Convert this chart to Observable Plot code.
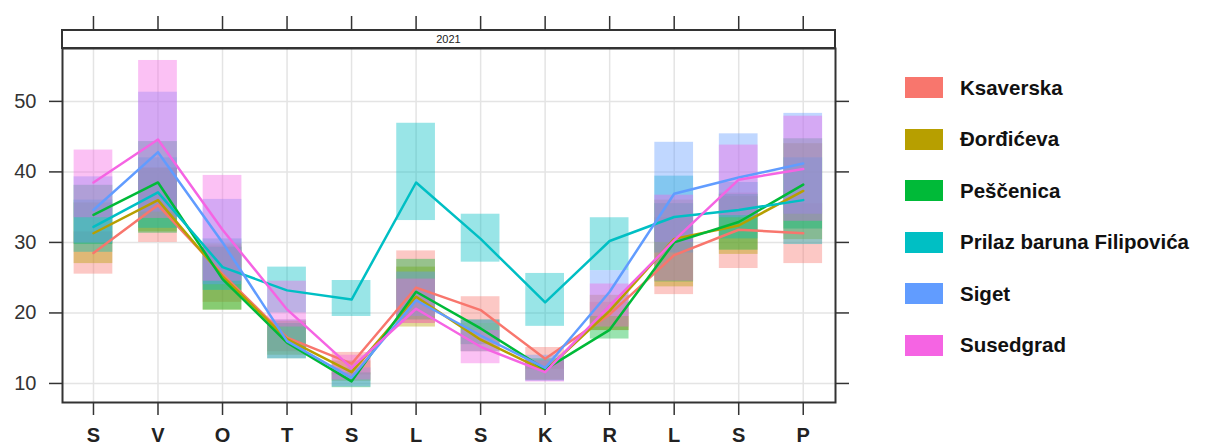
<!DOCTYPE html>
<html>
<head>
<meta charset="utf-8">
<script src="https://cdn.jsdelivr.net/npm/d3@7"></script>
<script src="https://cdn.jsdelivr.net/npm/@observablehq/plot@0.6"></script>
<style>
  html, body { margin: 0; padding: 0; background: #fff; }
  #wrap { position: relative; width: 1205px; height: 445px; overflow: hidden; font-family: "Liberation Sans", Arial, sans-serif; }
  #chart { position: absolute; left: 0; top: 0; }
  #legend { position: absolute; left: 905px; top: 62px; }
  .row { display: flex; align-items: center; height: 51.5px; }
  .sw { width: 38px; height: 21px; margin-right: 17px; }
  .lab { font-size: 20.5px; font-weight: bold; color: #111; white-space: nowrap; }
</style>
</head>
<body>
<div id="wrap"><div id="chart"></div><div id="legend"></div></div>
<script>
// ---- data ----
const monthLabels = ["S", "V", "O", "T", "S", "L", "S", "K", "R", "L", "S", "P"];
const year = "2021";
const sites = ["Ksaverska", "Đorđićeva", "Peščenica", "Prilaz baruna Filipovića", "Siget", "Susedgrad"];
const siteColors = ["#F8766D", "#B79F00", "#00BA38", "#00BFC4", "#619CFF", "#F564E3"];
const yTicks = [10, 20, 30, 40, 50];

const ksaverskaMean = [28.5, 35.3, 25.5, 16.5, 12.8, 23.6, 20.4, 13.5, 19.8, 28.2, 31.8, 31.3];
const ksaverskaLow  = [25.5, 30.0, 21.5, 14.5, 11.2, 18.5, 18.5, 12.0, 17.5, 22.6, 26.3, 27.0];
const ksaverskaHigh = [31.5, 40.6, 29.5, 19.0, 14.4, 28.8, 22.3, 15.1, 21.5, 33.5, 37.0, 35.5];

const djordjicevaMean = [31.3, 36.0, 25.2, 16.3, 11.6, 22.3, 16.2, 11.8, 20.3, 30.5, 32.4, 37.3];
const djordjicevaLow  = [27.0, 31.5, 20.4, 14.0, 10.3, 18.0, 14.5, 10.5, 17.5, 23.7, 28.3, 30.4];
const djordjicevaHigh = [35.6, 40.5, 29.8, 18.8, 13.2, 26.5, 18.5, 13.2, 22.5, 36.0, 36.5, 44.0];

const pescenicaMean = [33.9, 38.5, 24.8, 15.8, 10.3, 23.0, 17.8, 12.0, 17.6, 30.0, 32.9, 38.2];
const pescenicaLow  = [29.7, 31.3, 20.4, 13.5, 9.4, 19.0, 15.5, 10.4, 16.3, 24.4, 28.9, 31.9];
const pescenicaHigh = [38.1, 44.3, 29.3, 18.5, 11.5, 27.6, 19.0, 13.5, 19.5, 35.5, 36.8, 44.7];

const prilazMean = [32.2, 37.1, 26.5, 23.2, 21.9, 38.5, 30.5, 21.5, 30.2, 33.6, 34.6, 36.0];
const prilazLow  = [28.6, 32.0, 23.2, 20.0, 19.5, 33.1, 27.2, 18.1, 26.0, 28.5, 30.5, 29.7];
const prilazHigh = [36.0, 42.0, 30.5, 26.5, 24.6, 46.9, 34.0, 25.6, 33.5, 39.4, 38.5, 42.0];

const sigetMean = [34.6, 42.8, 30.0, 16.0, 10.8, 21.8, 16.8, 12.2, 23.0, 36.9, 39.2, 41.2];
const sigetLow  = [29.9, 34.3, 24.0, 13.5, 9.5, 19.5, 14.5, 10.3, 19.5, 30.0, 33.5, 34.0];
const sigetHigh = [39.3, 51.3, 36.1, 19.0, 12.2, 25.8, 19.0, 14.0, 26.0, 44.2, 45.4, 48.3];

const susedgradMean = [38.5, 44.6, 31.8, 20.5, 12.2, 20.6, 15.2, 11.6, 21.0, 30.3, 38.9, 40.4];
const susedgradLow  = [33.5, 33.4, 24.5, 18.0, 10.5, 18.5, 12.8, 10.2, 18.0, 24.5, 33.8, 33.0];
const susedgradHigh = [43.1, 55.8, 39.5, 24.5, 14.0, 24.8, 17.5, 13.2, 24.1, 36.7, 43.8, 47.9];

const means = [ksaverskaMean, djordjicevaMean, pescenicaMean, prilazMean, sigetMean, susedgradMean];
const lows  = [ksaverskaLow, djordjicevaLow, pescenicaLow, prilazLow, sigetLow, susedgradLow];
const highs = [ksaverskaHigh, djordjicevaHigh, pescenicaHigh, prilazHigh, sigetHigh, susedgradHigh];

const rows = sites.flatMap((s, i) => monthLabels.map((_, j) => ({
  site: s, month: j + 1, mean: means[i][j], low: lows[i][j], high: highs[i][j]
})));
const monthNums = monthLabels.map((_, j) => j + 1);
const half = 0.3;

const W = 880, H = 445;
const mL = 62, mR = 45, mT = 48, mB = 43;

const plot = Plot.plot({
  width: W, height: H,
  marginLeft: mL, marginRight: mR, marginTop: mT, marginBottom: mB,
  style: { fontFamily: "'Liberation Sans', Arial, sans-serif", background: "#fff", color: "#222" },
  x: { domain: [0.52, 12.5], axis: null },
  y: { domain: [7.3, 57.5], axis: null },
  color: { domain: sites, range: siteColors },
  marks: [
    Plot.gridX(monthNums, { stroke: "#e4e4e4", strokeOpacity: 1, strokeWidth: 1.5 }),
    Plot.gridY(yTicks, { stroke: "#e4e4e4", strokeOpacity: 1, strokeWidth: 1.5 }),
    Plot.rect(rows, {
      x1: d => d.month - half, x2: d => d.month + half,
      y1: "low", y2: "high", fill: "site", fillOpacity: 0.4
    }),
    Plot.line(rows, { x: "month", y: "mean", z: "site", stroke: "site", strokeWidth: 2.5 }),
    Plot.frame({ stroke: "#333", strokeWidth: 2 }),
    Plot.axisY(yTicks, { anchor: "left", label: null, tickSize: 13, tickPadding: 13, fontSize: 20, stroke: "#333", strokeWidth: 1.5, fill: "#333" }),
    Plot.axisY(yTicks, { anchor: "right", label: null, tickSize: 13, tickFormat: () => "", stroke: "#333", strokeWidth: 1.5 }),
    Plot.axisX(monthNums, { anchor: "bottom", label: null, tickSize: 13, tickPadding: 12, fontSize: 20, fontWeight: "bold",
      tickFormat: d => monthLabels[d - 1], stroke: "#333", strokeWidth: 1.5, fill: "#222" }),
    Plot.axisX(monthNums, { anchor: "top", label: null, tickSize: 15, dy: -18, tickFormat: () => "", stroke: "#333", strokeWidth: 1.5 })
  ]
});
document.getElementById("chart").appendChild(plot);

// strip (lattice-style panel header)
const svg = d3.select(plot);
const stripTop = 30;
svg.append("rect")
  .attr("x", mL).attr("y", stripTop)
  .attr("width", W - mL - mR).attr("height", mT - stripTop)
  .attr("fill", "#fff").attr("stroke", "#333").attr("stroke-width", 2);
svg.append("text")
  .attr("x", mL + (W - mL - mR) / 2).attr("y", stripTop + (mT - stripTop) / 2)
  .attr("dy", "0.35em").attr("text-anchor", "middle")
  .attr("font-size", 11).attr("fill", "#222")
  .text(year);

// legend
const leg = d3.select("#legend");
sites.forEach((s, i) => {
  const r = leg.append("div").attr("class", "row");
  r.append("div").attr("class", "sw").style("background", siteColors[i]);
  r.append("div").attr("class", "lab").text(s);
});
</script>
</body>
</html>
